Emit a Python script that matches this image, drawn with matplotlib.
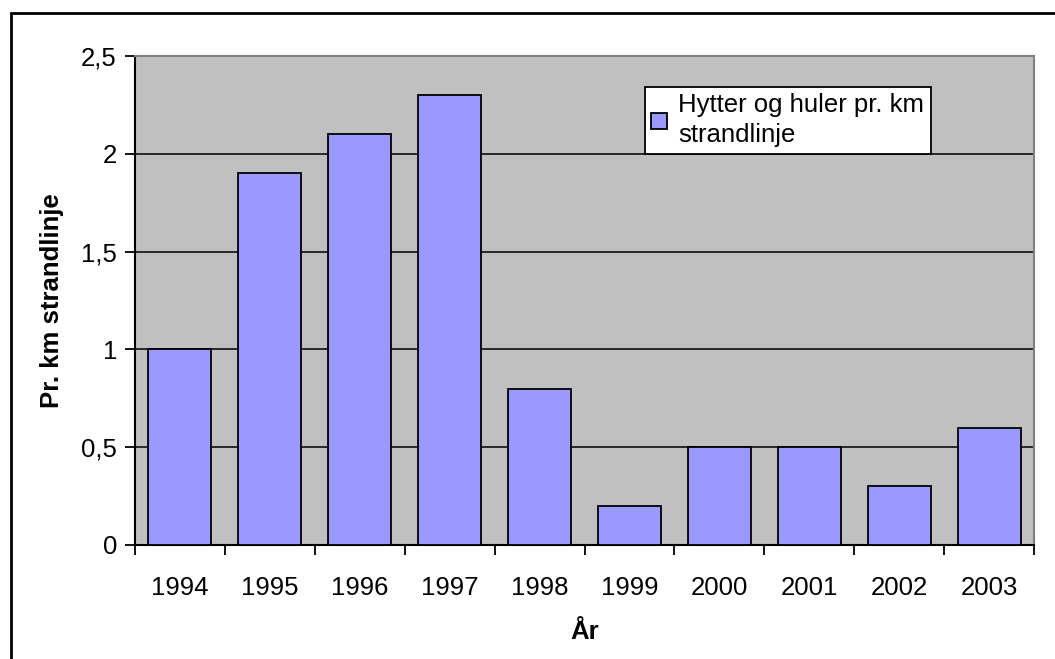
import numpy as np
import matplotlib
matplotlib.use('Agg')
import matplotlib.pyplot as plt
from matplotlib.patches import Rectangle
from matplotlib.ticker import FuncFormatter, MultipleLocator

years = ['1994', '1995', '1996', '1997', '1998', '1999', '2000', '2001', '2002', '2003']
values = [1.0, 1.9, 2.1, 2.3, 0.8, 0.2, 0.5, 0.5, 0.3, 0.6]
series_name = 'Hytter og huler pr. km\nstrandlinje'

plt.rcParams['font.family'] = ['Liberation Sans', 'DejaVu Sans']
fs = 18.5

fig = plt.figure(figsize=(10.55, 6.59), dpi=100)
ax = fig.add_axes([135/1055, 1-545/659, (1034-135)/1055, (545-56)/659])
ax.set_facecolor('#C0C0C0')

x = np.arange(len(years))
ax.bar(x, values, width=0.7, color='#9999FF', edgecolor='black', linewidth=1.3,
       label=series_name, zorder=3)

ax.set_xlim(-0.5, len(years)-0.5)
ax.set_ylim(0, 2.5)
ax.yaxis.set_major_locator(MultipleLocator(0.5))
ax.yaxis.set_major_formatter(FuncFormatter(lambda v, p: ('%g' % v).replace('.', ',')))
ax.grid(axis='y', color='black', linewidth=1.1, zorder=1)

ax.set_xticks(x)
ax.set_xticklabels(years)
ax.set_xticks(np.arange(-0.5, len(years), 1), minor=True)
ax.tick_params(axis='x', which='major', length=0, pad=22, labelsize=fs)
ax.tick_params(axis='x', which='minor', length=7, width=1.3, direction='out')
ax.tick_params(axis='y', length=7, width=1.3, direction='out', labelsize=fs, pad=6)

for s in ['left', 'bottom']:
    ax.spines[s].set_color('black')
    ax.spines[s].set_linewidth(1.5)
for s in ['top', 'right']:
    ax.spines[s].set_color('#808080')
    ax.spines[s].set_linewidth(1.5)

ax.set_xlabel('År', fontsize=fs, fontweight='bold', labelpad=15)
ax.set_ylabel('Pr. km strandlinje', fontsize=fs, fontweight='bold', labelpad=12)

leg = ax.legend(loc='upper left', bbox_to_anchor=(645/1055, 1-87/659),
                bbox_transform=fig.transFigure, fontsize=fs, frameon=True,
                fancybox=False, edgecolor='black', framealpha=1, handlelength=0.6,
                handleheight=0.6, handletextpad=0.45, borderpad=0.25,
                borderaxespad=0)
leg.get_frame().set_linewidth(1.3)
leg.set_zorder(5)
for t in leg.get_texts():
    t.set_linespacing(1.3)

# outer chart border (clipped on right and bottom)
fig.add_artist(Rectangle((11/1055, -0.05), 1.2, 1-13/659+0.05, transform=fig.transFigure,
                         fill=False, edgecolor='black', linewidth=2))

plt.savefig('out.png', dpi=100)
